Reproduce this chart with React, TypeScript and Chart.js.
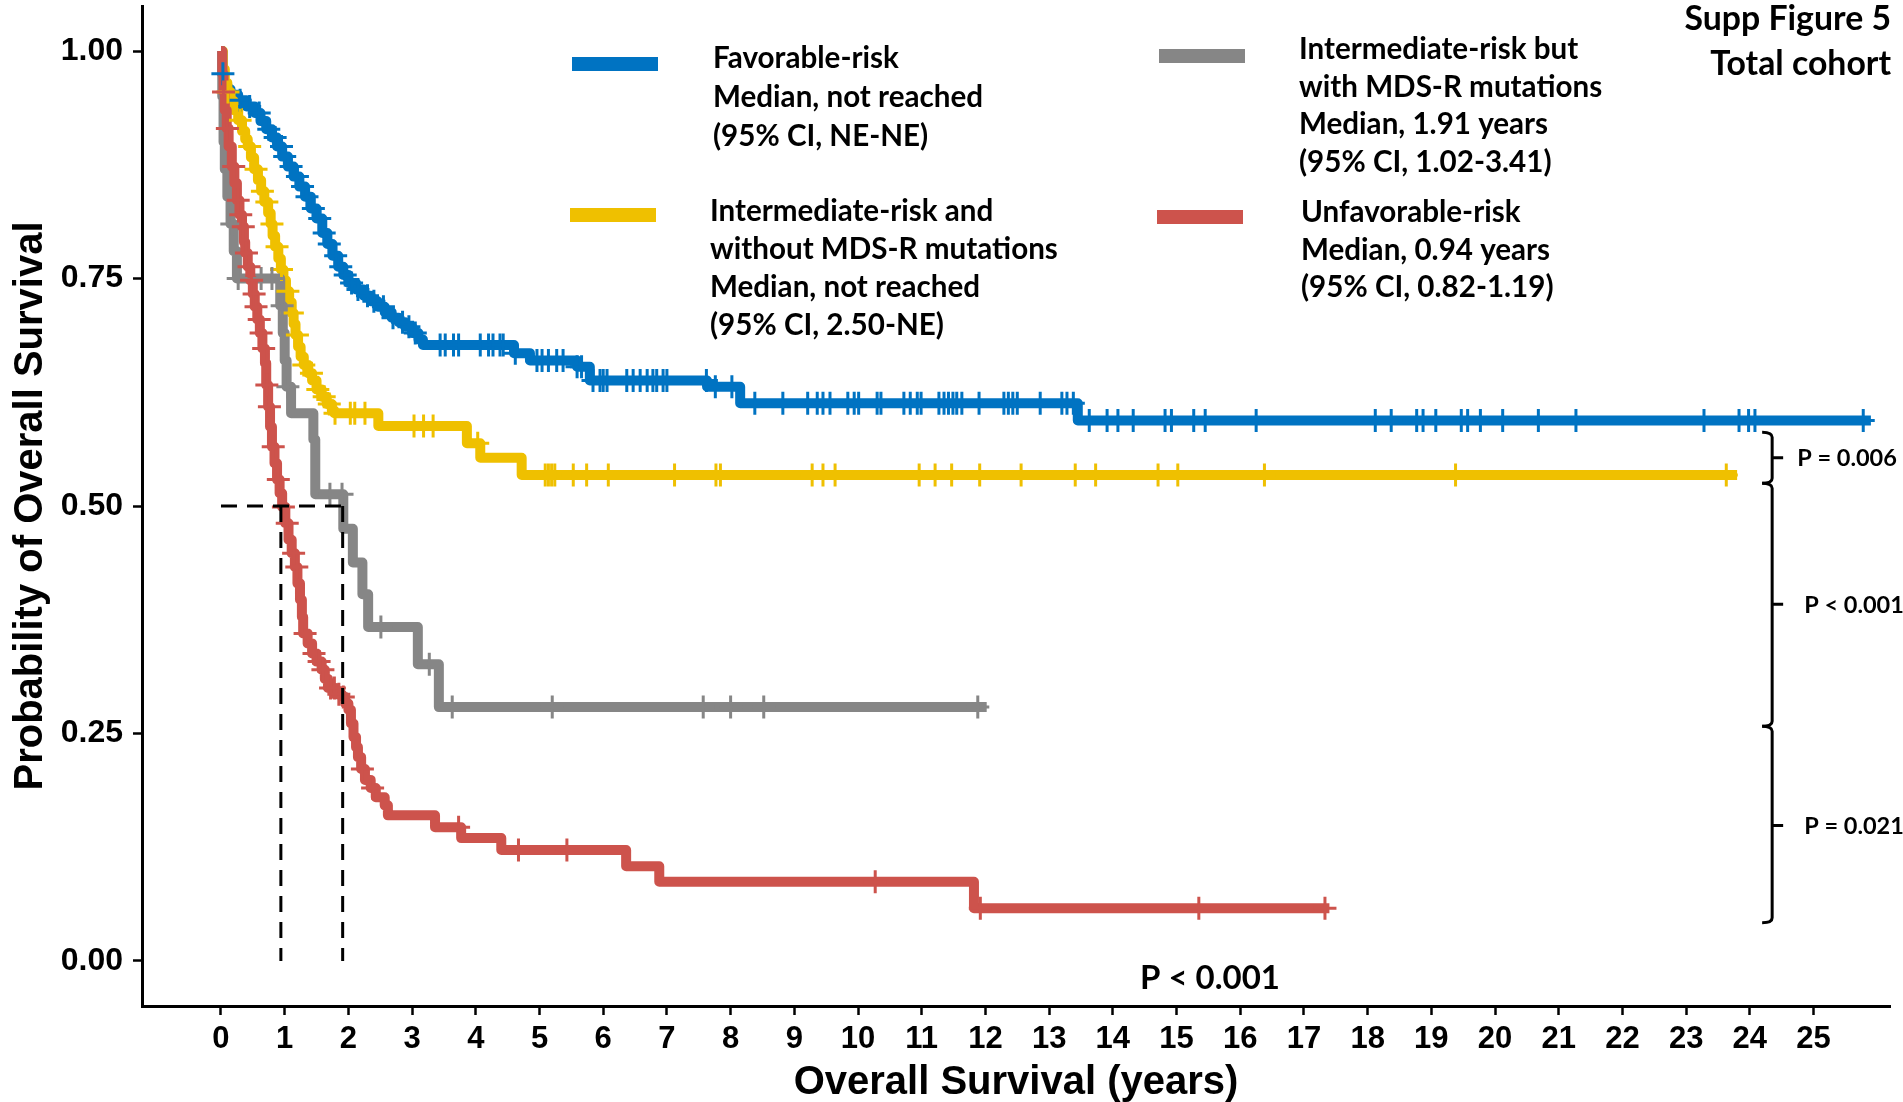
import React, { useEffect, useRef } from 'react';
import { Chart, registerables } from 'chart.js';

Chart.register(...registerables);

const W = 1903;
const H = 1102;

// ---- Kaplan-Meier step curves: [time (years), survival probability] ----
const favorableCurve: [number, number][] = [
  [0, 1], [0.02, 0.975], [0.04, 0.958], [0.15, 0.952], [0.27, 0.946], [0.4, 0.939], [0.53, 0.932],
  [0.62, 0.923], [0.71, 0.914], [0.8, 0.905], [0.88, 0.895], [0.96, 0.884], [1.05, 0.873],
  [1.14, 0.862], [1.23, 0.851], [1.32, 0.84], [1.41, 0.827], [1.5, 0.816], [1.59, 0.8],
  [1.67, 0.788], [1.75, 0.775], [1.84, 0.763], [1.92, 0.754], [2.0, 0.745], [2.12, 0.738],
  [2.24, 0.731], [2.35, 0.725], [2.46, 0.719], [2.57, 0.713], [2.68, 0.707], [2.79, 0.702],
  [2.89, 0.697], [3.0, 0.69], [3.1, 0.683], [3.17, 0.677], [4.6, 0.668], [4.85, 0.66],
  [5.59, 0.653], [5.79, 0.638], [7.63, 0.631], [8.15, 0.613], [13.45, 0.594], [25.9, 0.594],
];
const favorableCensor: number[] = [
  0.03, 0.3, 0.45, 0.6, 0.75, 0.85, 0.95, 1.0, 1.1, 1.2, 1.28, 1.35, 1.45, 1.55, 1.62, 1.7, 1.8,
  1.88, 1.95, 2.05, 2.15, 2.3, 2.4, 2.55, 2.7, 2.85, 2.95, 3.05, 3.44, 3.52, 3.65, 3.73, 4.07,
  4.2, 4.27, 4.38, 4.43, 4.62, 4.96, 5.04, 5.14, 5.27, 5.37, 5.59, 5.66, 5.84, 5.95, 6.0, 6.06,
  6.37, 6.47, 6.58, 6.69, 6.78, 6.84, 6.94, 7.0, 7.62, 7.76, 8.02, 8.38, 8.82, 9.21, 9.36, 9.45,
  9.56, 9.84, 9.94, 10.01, 10.3, 10.36, 10.72, 10.82, 10.93, 10.99, 11.27, 11.35, 11.42, 11.49,
  11.55, 11.63, 11.9, 12.29, 12.36, 12.43, 12.5, 12.86, 13.2, 13.28, 13.38, 13.63, 13.91, 14.08,
  14.32, 14.82, 14.92, 15.27, 15.45, 16.25, 18.12, 18.37, 18.77, 18.87, 19.07, 19.47, 19.57,
  19.77, 20.12, 20.68, 21.27, 23.28, 23.83, 23.98, 24.08, 25.78,
];

const intNoMdsCurve: [number, number][] = [
  [0, 1], [0.03, 0.98], [0.06, 0.965], [0.1, 0.955], [0.15, 0.945], [0.2, 0.935], [0.27, 0.924],
  [0.33, 0.912], [0.38, 0.903], [0.42, 0.895], [0.47, 0.883], [0.52, 0.87], [0.58, 0.858],
  [0.63, 0.846], [0.68, 0.834], [0.74, 0.822], [0.78, 0.81], [0.81, 0.797], [0.85, 0.785],
  [0.9, 0.772], [0.94, 0.76], [0.98, 0.748], [1.02, 0.736], [1.07, 0.724], [1.11, 0.712],
  [1.14, 0.7], [1.17, 0.688], [1.21, 0.675], [1.25, 0.664], [1.3, 0.655], [1.37, 0.646],
  [1.43, 0.638], [1.5, 0.628], [1.58, 0.62], [1.66, 0.612], [1.74, 0.605], [1.78, 0.602],
  [2.47, 0.588], [3.86, 0.569], [4.07, 0.553], [4.72, 0.534], [23.8, 0.534],
];
const intNoMdsCensor: number[] = [
  0.11, 0.3, 0.45, 0.55, 0.65, 0.72, 0.8, 0.88, 0.95, 1.05, 1.12, 1.2, 1.3, 1.42, 1.52, 1.62,
  1.7, 1.79, 2.03, 2.1, 2.26, 3.03, 3.18, 3.33, 4.03, 5.09, 5.14, 5.19, 5.24, 5.53, 5.74, 6.08,
  7.12, 7.77, 7.84, 9.28, 9.45, 9.64, 10.96, 11.21, 11.47, 11.91, 12.56, 13.41, 13.73, 14.71,
  15.02, 16.38, 19.38, 23.63,
];

const intMdsCurve: [number, number][] = [
  [0, 1], [0.02, 0.95], [0.04, 0.9], [0.06, 0.87], [0.1, 0.84], [0.15, 0.81], [0.2, 0.78],
  [0.25, 0.75], [0.93, 0.72], [0.97, 0.69], [1.0, 0.66], [1.03, 0.631], [1.1, 0.602],
  [1.45, 0.573], [1.48, 0.513], [1.92, 0.475], [2.07, 0.438], [2.22, 0.403], [2.31, 0.367],
  [3.09, 0.326], [3.42, 0.279], [12.02, 0.279],
];
const intMdsCensor: number[] = [
  0.17, 0.27, 0.63, 0.8, 0.96, 1.05, 1.71, 1.9, 2.51, 3.27, 3.63, 5.2, 7.57, 8.0, 8.52, 11.88,
];

const unfavorableCurve: [number, number][] = [
  [0, 1], [0.02, 0.975], [0.04, 0.955], [0.06, 0.935], [0.09, 0.915], [0.12, 0.895], [0.17, 0.873],
  [0.21, 0.855], [0.25, 0.836], [0.29, 0.82], [0.33, 0.807], [0.36, 0.79], [0.38, 0.778],
  [0.42, 0.763], [0.46, 0.748], [0.5, 0.733], [0.53, 0.719], [0.57, 0.705], [0.61, 0.69],
  [0.65, 0.673], [0.69, 0.657], [0.71, 0.633], [0.74, 0.609], [0.77, 0.587], [0.8, 0.565],
  [0.84, 0.547], [0.88, 0.529], [0.92, 0.514], [0.96, 0.499], [1.01, 0.481], [1.06, 0.463],
  [1.11, 0.448], [1.16, 0.433], [1.2, 0.415], [1.24, 0.397], [1.27, 0.378], [1.29, 0.36],
  [1.36, 0.349], [1.43, 0.338], [1.5, 0.329], [1.58, 0.32], [1.63, 0.31], [1.68, 0.3],
  [1.8, 0.293], [1.9, 0.29], [1.95, 0.283], [2.0, 0.276], [2.04, 0.261], [2.08, 0.246],
  [2.12, 0.235], [2.15, 0.224], [2.2, 0.211], [2.26, 0.199], [2.35, 0.19], [2.43, 0.18],
  [2.57, 0.171], [2.62, 0.16], [3.36, 0.147], [3.77, 0.135], [4.4, 0.122], [6.36, 0.104],
  [6.88, 0.087], [11.82, 0.058], [17.4, 0.058],
];
const unfavorableCensor: number[] = [
  0.04, 0.1, 0.2, 0.27, 0.31, 0.35, 0.4, 0.44, 0.48, 0.52, 0.55, 0.6, 0.63, 0.67, 0.72, 0.76,
  0.82, 0.9, 0.98, 1.04, 1.14, 1.19, 1.32, 1.46, 1.54, 1.6, 1.72, 1.78, 1.85, 1.92, 2.22, 2.38,
  3.73, 4.67, 5.43, 10.27, 11.92, 15.35, 17.33,
];

// ---- Axis ticks and annotations ----
const xTickValues: number[] = [0, 1, 2, 3, 4, 5, 6, 7, 8, 9, 10, 11, 12, 13, 14, 15, 16, 17, 18, 19, 20, 21, 22, 23, 24, 25];
const yTickValues: number[] = [0, 0.25, 0.5, 0.75, 1.0];
const medianTimes: number[] = [0.94, 1.91];
const medianLevel = 0.5;

const legendFavorable: string[] = ['Favorable-risk', 'Median, not reached', '(95% CI, NE-NE)'];
const legendIntNoMds: string[] = ['Intermediate-risk and', 'without MDS-R mutations', 'Median, not reached', '(95% CI, 2.50-NE)'];
const legendIntMds: string[] = ['Intermediate-risk but', 'with MDS-R mutations', 'Median, 1.91 years', '(95% CI, 1.02-3.41)'];
const legendUnfavorable: string[] = ['Unfavorable-risk', 'Median, 0.94 years', '(95% CI, 0.82-1.19)'];
const figureTitle: string[] = ['Supp Figure 5', 'Total cohort'];
const overallP = 'P < 0.001';
const pairwiseP: string[] = ['P = 0.006', 'P < 0.001', 'P = 0.021'];
// brackets spanning pairs of curves: [top, middle, bottom] in survival units
const bracketSpans: [number, number, number][] = [
  [0.581, 0.553, 0.525],
  [0.525, 0.392, 0.258],
  [0.258, 0.149, 0.042],
];
const xTitle = 'Overall Survival (years)';
const yTitle = 'Probability of Overall Survival';

const BLUE = '#0073C2';
const YELLOW = '#EFC000';
const GREY = '#868686';
const RED = '#CD534C';

function survivalAt(curve: [number, number][], t: number): number {
  let s = curve[0][1];
  for (const [ct, cs] of curve) {
    if (ct <= t) s = cs;
    else break;
  }
  return s;
}

const LEGEND_FONT = 'Lato';
const AXIS_FONT = 'Liberation Sans';

const annotationPlugin = {
  id: 'kmAnnotations',
  afterDraw(chart: any) {
    const { ctx } = chart;
    const xs = chart.scales.x;
    const ys = chart.scales.y;
    ctx.save();

    // legend
    const items: { color: string; lines: string[]; sx: number; sy: number; tx: number; ty: number; gap: number }[] = [
      { color: BLUE, lines: legendFavorable, sx: 572, sy: 57, tx: 713, ty: 68, gap: 39 },
      { color: YELLOW, lines: legendIntNoMds, sx: 570, sy: 208, tx: 710, ty: 221, gap: 38 },
      { color: GREY, lines: legendIntMds, sx: 1159, sy: 49, tx: 1299, ty: 59, gap: 37.7 },
      { color: RED, lines: legendUnfavorable, sx: 1157, sy: 210, tx: 1301, ty: 222, gap: 37.5 },
    ];
    ctx.textAlign = 'left';
    ctx.textBaseline = 'alphabetic';
    ctx.fillStyle = '#000';
    ctx.font = `bold 29.6px ${LEGEND_FONT}`;
    for (const it of items) {
      ctx.fillStyle = it.color;
      ctx.fillRect(it.sx, it.sy, 86, 14);
      ctx.fillStyle = '#000';
      it.lines.forEach((ln, i) => ctx.fillText(ln, it.tx, it.ty + i * it.gap));
    }

    // figure title
    ctx.textAlign = 'right';
    ctx.font = `bold 33.8px ${LEGEND_FONT}`;
    ctx.fillText(figureTitle[0], 1891, 30);
    ctx.fillText(figureTitle[1], 1891, 75);

    // overall p
    ctx.textAlign = 'center';
    ctx.font = `bold 33px ${LEGEND_FONT}`;
    ctx.fillText(overallP, 1210, 989);

    // brackets
    const xv = xs.getPixelForValue(24.35);
    const xh = xv - 10;
    ctx.strokeStyle = '#000';
    ctx.lineWidth = 3;
    ctx.font = `bold 23.5px ${LEGEND_FONT}`;
    ctx.textAlign = 'left';
    ctx.textBaseline = 'middle';
    bracketSpans.forEach(([top, mid, bot], i) => {
      const yt = ys.getPixelForValue(top);
      const ym = ys.getPixelForValue(mid);
      const yb = ys.getPixelForValue(bot);
      ctx.beginPath();
      ctx.moveTo(xh, yt);
      ctx.quadraticCurveTo(xv, yt, xv, yt + 5);
      ctx.lineTo(xv, yb - 5);
      ctx.quadraticCurveTo(xv, yb, xh, yb);
      ctx.moveTo(xv, ym);
      ctx.lineTo(xv + 11, ym);
      ctx.stroke();
      ctx.fillText(pairwiseP[i], xv + (i === 0 ? 25 : 32), ym + 1);
    });

    // axis titles
    ctx.fillStyle = '#000';
    ctx.font = `bold 40px ${AXIS_FONT}`;
    ctx.textAlign = 'center';
    ctx.textBaseline = 'alphabetic';
    const cx = (chart.chartArea.left + chart.chartArea.right) / 2;
    ctx.fillText(xTitle, cx, 1094);
    const cy = (chart.chartArea.top + chart.chartArea.bottom) / 2;
    ctx.translate(42, cy);
    ctx.rotate(-Math.PI / 2);
    ctx.fillText(yTitle, 0, 0);

    ctx.restore();
  },
};

export default function App() {
  const ref = useRef<HTMLCanvasElement | null>(null);

  useEffect(() => {
    if (!ref.current) return;
    const series = [
      { color: RED, curve: unfavorableCurve, censor: unfavorableCensor },
      { color: GREY, curve: intMdsCurve, censor: intMdsCensor },
      { color: YELLOW, curve: intNoMdsCurve, censor: intNoMdsCensor },
      { color: BLUE, curve: favorableCurve, censor: favorableCensor },
    ];

    const dashed: any[] = [
      {
        data: [{ x: 0, y: medianLevel }, { x: Math.max(...medianTimes), y: medianLevel }],
      },
      ...medianTimes.map((m) => ({ data: [{ x: m, y: medianLevel }, { x: m, y: 0 }] })),
    ].map((d) => ({
      ...d,
      borderColor: '#000',
      borderWidth: 3,
      borderDash: [16, 10],
      pointRadius: 0,
      fill: false,
      stepped: false,
    }));

    const censorSets = series.map((s) => ({
      data: s.censor.map((t) => ({ x: t, y: survivalAt(s.curve, t) })),
      showLine: false,
      pointStyle: 'cross',
      pointRadius: 11.5,
      pointBorderWidth: 3,
      pointBorderColor: s.color,
      pointBackgroundColor: s.color,
      borderColor: s.color,
    }));

    const lineSets = series.map((s) => ({
      data: s.curve.map(([x, y]) => ({ x, y })),
      stepped: 'before',
      borderColor: s.color,
      borderWidth: 10,
      borderJoinStyle: 'round',
      borderCapStyle: 'butt',
      pointRadius: 0,
      fill: false,
    }));

    const chart = new Chart(ref.current, {
      type: 'line',
      data: { datasets: [...dashed, ...censorSets, ...lineSets] as any },
      options: {
        animation: false,
        responsive: false,
        events: [],
        layout: { autoPadding: false, padding: { top: 6, right: 13, left: 0, bottom: 0 } },
        plugins: { legend: { display: false }, tooltip: { enabled: false } },
        scales: {
          x: {
            type: 'linear',
            min: -1.24,
            max: 26.2,
            afterBuildTicks: (s: any) => {
              s.ticks = xTickValues.map((v) => ({ value: v }));
            },
            afterFit: (s: any) => {
              s.height = 96;
              s.paddingLeft = 0;
              s.paddingRight = 0;
            },
            grid: { drawOnChartArea: false, drawTicks: true, tickLength: 9, tickWidth: 2.5, tickColor: '#000' },
            border: { display: true, color: '#000', width: 3 },
            ticks: {
              color: '#000',
              font: { family: AXIS_FONT, weight: 'bold', size: 31 },
              padding: 6,
              maxRotation: 0,
              autoSkip: false,
              callback: (v: any) => String(v),
            },
          },
          y: {
            type: 'linear',
            min: -0.0495,
            max: 1.0495,
            afterBuildTicks: (s: any) => {
              s.ticks = yTickValues.map((v) => ({ value: v }));
            },
            afterFit: (s: any) => {
              s.width = 142;
              s.paddingTop = 0;
              s.paddingBottom = 0;
            },
            grid: { drawOnChartArea: false, drawTicks: true, tickLength: 9, tickWidth: 2.5, tickColor: '#000' },
            border: { display: true, color: '#000', width: 3 },
            ticks: {
              color: '#000',
              font: { family: AXIS_FONT, weight: 'bold', size: 32 },
              padding: 10,
              autoSkip: false,
              callback: (v: any) => Number(v).toFixed(2),
            },
          },
        },
      } as any,
      plugins: [annotationPlugin],
    });
    return () => chart.destroy();
  }, []);

  return (
    <div style={{ position: 'fixed', left: 0, top: 0, width: W, height: H, background: '#fff' }}>
      <canvas ref={ref} width={W} height={H} style={{ width: W, height: H, display: 'block' }} />
    </div>
  );
}
